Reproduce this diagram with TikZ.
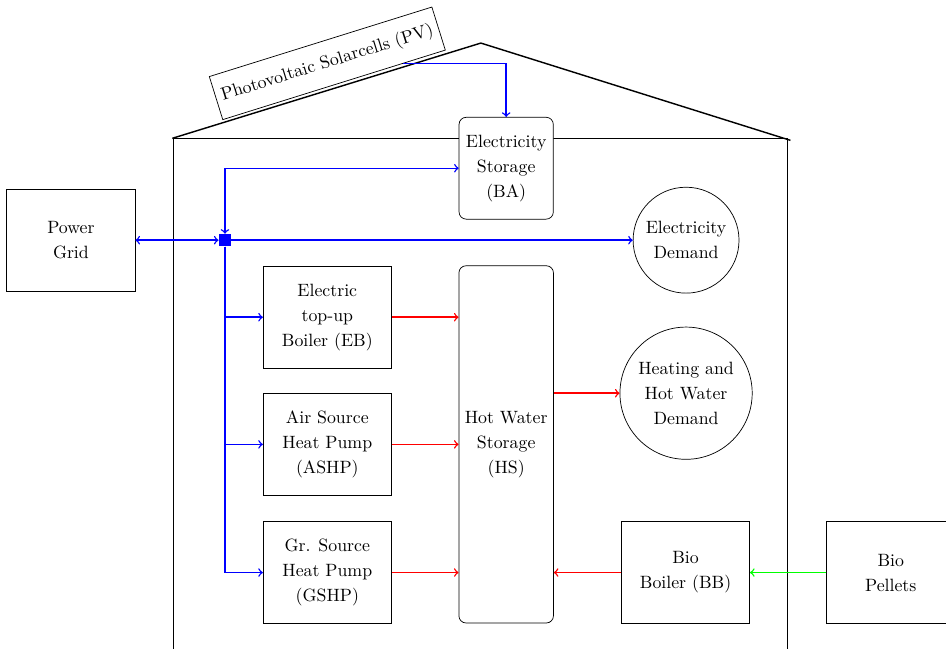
\documentclass[tikz,border=0pt]{standalone}
\usepackage{tikz}
\usetikzlibrary{positioning,calc}

\begin{document}
\begin{tikzpicture}[node distance=2cm,on grid,>=to,
    font=\fontsize{10}{14}\selectfont,
    unit/.style={draw,fill=white,align=center,minimum width=2.53cm,minimum height=2.01cm},
    storage/.style={draw,fill=white,rounded corners,align=center,minimum width=1.86cm},
    demand/.style={draw,fill=white,circle,align=center,inner sep=1pt},
    elec/.style={blue,thick},
    heat/.style={red,thick},
    fuel/.style={green,thick}]
    \path[use as bounding box,clip] (0,0) rectangle (18.67,-12.79);
    % house
    \draw[thick] (3.40,-2.73) -- (9.49,-0.85) -- (15.60,-2.77);
    \draw (3.43,-13.5) -- (3.43,-2.74) -- (15.54,-2.74) -- (15.54,-13.5);
    \node[draw,rotate=17.35,minimum height=0.89cm] (pv) at (6.46,-1.25) {Photovoltaic Solarcells (PV)};
    % nodes
    \node[fill=blue,minimum size=0.24cm,inner sep=0pt] (bus) at (4.44,-4.74) {};
    \node[unit] (grid)                  [left=3.04cm of bus]               {Power\\Grid};
    \node[unit] (eb)                    [below right=1.52cm and 2.02cm of bus] {Electric\\top-up\\Boiler (EB)};
    \node[unit] (ashp)                  [below=2.51cm of eb]               {Air Source\\Heat Pump\\(ASHP)};
    \node[unit] (gshp)                  [below=2.53cm of ashp]             {Gr. Source\\Heat Pump\\(GSHP)};
    \node[storage,minimum height=7.05cm] (hs) [right=3.53cm of ashp]       {Hot Water\\Storage\\(HS)};
    \node[storage,minimum height=2.01cm] (ba) [above right=2.94cm and 3.53cm of eb] {Electricity\\Storage\\(BA)};
    \node[demand,minimum size=2.09cm] (el_dem) [right=9.10cm of bus]     {Electricity\\Demand};
    \node[demand,minimum size=2.61cm] (heat_dem) [below=3.02cm of el_dem] {Heating and\\Hot Water\\Demand};
    \node[unit] (bb)                    [right=7.07cm of gshp]             {Bio\\Boiler (BB)};
    \node[unit] (pellets)               [right=4.05cm of bb]               {Bio\\Pellets};
    % electricity
    \draw[elec,->] ($(pv.south west)!0.81!(pv.south east)$) -| (ba.north);
    \draw[elec,<->] (grid) -- (bus);
    \draw[elec,->] (bus) -- (el_dem);
    \draw[elec,<->] (ba.west) -| (bus.north);
    \draw[elec,->] (bus) |- (eb.west);
    \draw[elec,->] (bus) |- (ashp.west);
    \draw[elec,->] (bus) |- (gshp.west);
    % heat
    \draw[heat,->] (eb) -- (eb -| hs.west);
    \draw[heat,->] (ashp) -- (ashp -| hs.west);
    \draw[heat,->] (gshp) -- (gshp -| hs.west);
    \draw[heat,->] (heat_dem.west -| hs.east) -- (heat_dem);
    \draw[heat,->] (bb) -- (bb -| hs.east);
    % fuel
    \draw[fuel,->] (pellets) -- (bb);
\end{tikzpicture}
\end{document}
